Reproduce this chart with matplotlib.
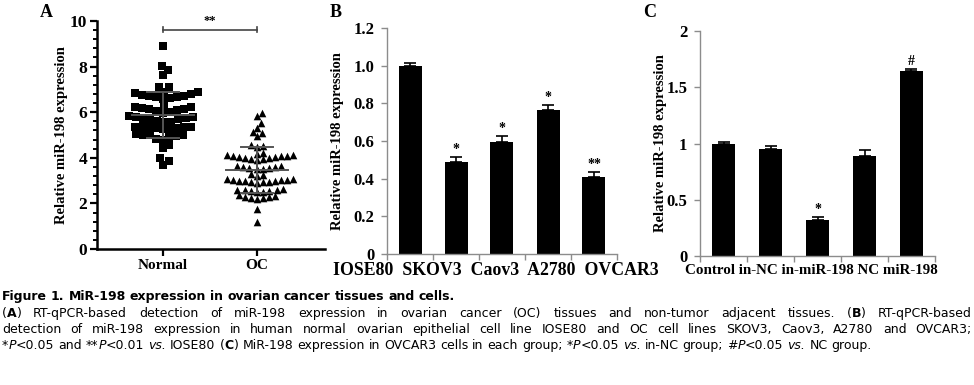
import matplotlib
matplotlib.use('Agg')
import matplotlib.pyplot as plt
import numpy as np
from matplotlib.ticker import AutoMinorLocator

# ---- panel A: individual values ----
a_groups = ['Normal', 'OC']
normal_vals = [8.92, 8.03, 7.83, 7.61, 7.12, 7.10, 6.90, 6.85, 6.88,
               6.78, 6.75, 6.72, 6.68, 6.62, 6.58, 6.65, 6.70,
               6.28, 6.25, 6.20, 6.15, 6.08, 6.02, 5.98, 6.05, 6.12, 6.22,
               5.82, 5.80, 5.75, 5.70, 5.65, 5.58, 5.55, 5.62, 5.68, 5.78,
               5.35, 5.33, 5.32, 5.30, 5.28, 5.25, 5.30, 5.34, 5.36,
               5.05, 5.00, 4.95, 4.92, 5.02, 4.98,
               4.82, 4.78, 4.55, 4.42, 3.98, 3.88, 3.70]
oc_vals = [5.97, 5.82, 5.52, 5.31, 5.12, 5.09, 4.95,
           4.55, 4.50, 4.48, 4.22, 4.18,
           4.12, 4.10, 4.08, 4.05, 4.02, 3.98, 3.95, 3.92, 3.96, 4.00, 4.06, 4.11,
           3.62, 3.58, 3.55, 3.52, 3.50, 3.54, 3.60, 3.65,
           3.30, 3.25, 3.22,
           3.05, 3.02, 3.00, 2.98, 2.95, 2.92, 2.90, 2.93, 2.97, 3.01, 3.04, 3.06,
           2.60, 2.58, 2.55, 2.52, 2.50, 2.53, 2.57, 2.62,
           2.35, 2.30, 2.25, 2.20, 2.22, 2.28, 2.33,
           1.75, 1.17]
a_sig = '**'

# ---- panel B: cell lines ----
b_labels = ['IOSE80', 'SKOV3', 'Caov3', 'A2780', 'OVCAR3']
b_means = [1.00, 0.49, 0.597, 0.762, 0.408]
b_errs = [0.015, 0.027, 0.032, 0.030, 0.028]
b_marks = ['', '*', '*', '*', '**']
b_ticks = [0, 0.2, 0.4, 0.6, 0.8, 1.0, 1.2]
b_ticklabels = ['0', '0.2', '0.4', '0.6', '0.8', '1.0', '1.2']

# ---- panel C: OVCAR3 groups ----
c_labels = ['Control', 'in-NC', 'in-miR-198', 'NC', 'miR-198']
c_means = [0.995, 0.955, 0.317, 0.889, 1.647]
c_errs = [0.020, 0.022, 0.027, 0.056, 0.017]
c_marks = ['', '', '*', '', '#']
c_ticks = [0, 0.5, 1, 1.5, 2]
c_ticklabels = ['0', '0.5', '1', '1.5', '2']

ylab = 'Relative miR-198 expression'

caption = [
    ('|Figure 1. MiR-198 expression in ovarian cancer tissues and cells.|', False),
    ('(|A|) RT-qPCR-based detection of miR-198 expression in ovarian cancer (OC) '
     'tissues and non-tumor adjacent tissues. (|B|) RT-qPCR-based', True),
    ('detection of miR-198 expression in human normal ovarian epithelial cell line '
     'IOSE80 and OC cell lines SKOV3, Caov3, A2780 and OVCAR3;', True),
    ('*_P_<0.05 and **_P_<0.01 _vs._ IOSE80 (|C|) MiR-198 expression in OVCAR3 cells '
     'in each group; *_P_<0.05 _vs._ in-NC group; #_P_<0.05 _vs._ NC group.', False),
]

SERIF = 'Liberation Serif'
CAP_FONT = 'DejaVu Sans'
W, H = 974, 385

plt.rcParams['font.family'] = SERIF
plt.rcParams['font.weight'] = 'bold'
plt.rcParams['axes.labelweight'] = 'bold'

fig = plt.figure(figsize=(W / 100, H / 100), dpi=100)


def px_axes(left, right, bottom, top):
    return fig.add_axes([left / W, (H - bottom) / H, (right - left) / W, (bottom - top) / H])


def swarm(vals, d_px, ppy, ppx):
    # simple beeswarm: each point goes to the free spot nearest the centre
    vals = np.asarray(vals)
    order = np.argsort(vals)
    cand = [0.0]
    for k in range(1, 80):
        cand += [k * 0.5, -k * 0.5]
    placed = []
    offs = np.zeros(len(vals))
    for i in order:
        y = vals[i] * ppy
        for c in cand:
            if all((c - px) ** 2 + (y - py) ** 2 >= d_px ** 2 for px, py in placed):
                break
        placed.append((c, y))
        offs[i] = c / ppx
    return offs


# ================= panel A =================
axA = px_axes(97, 325, 249, 21)
axA.set_xlim(-0.70, 1.72)
axA.set_ylim(0, 10)
ppy = 228 / 10.0
ppx = 94.0
for i, (vals, mk, d) in enumerate([(normal_vals, 's', 7.0), (oc_vals, '^', 5.9)]):
    offs = swarm(vals, d, ppy, ppx)
    axA.scatter(i + offs, vals, marker=mk, s=30, color='black', linewidths=0,
                zorder=3, clip_on=False)
    m = np.mean(vals)
    sd = np.std(vals, ddof=1)
    axA.plot([i - 0.33, i + 0.33], [m, m], color='#555555', lw=1.4, zorder=4)
    for v in (m - sd, m + sd):
        axA.plot([i - 0.17, i + 0.17], [v, v], color='#555555', lw=1.4, zorder=4)
    axA.plot([i, i], [m - sd, m + sd], color='#555555', lw=1.4, zorder=4)

axA.plot([0, 1], [9.62, 9.62], color='#444444', lw=1.2)
for xb in (0, 1):
    axA.plot([xb, xb], [9.5, 9.74], color='#444444', lw=1.2)
axA.text(0.5, 9.72, a_sig, ha='center', va='bottom', fontsize=9)

for s in ['top', 'right']:
    axA.spines[s].set_visible(False)
for s in ['left', 'bottom']:
    axA.spines[s].set_linewidth(1.8)
axA.set_yticks([0, 2, 4, 6, 8, 10])
axA.yaxis.set_minor_locator(AutoMinorLocator(5))
axA.set_xticks([0, 1])
axA.set_xticklabels(a_groups, fontsize=11, fontweight='bold')
axA.tick_params(axis='y', which='major', length=5, width=1.6, labelsize=12.5, pad=2)
axA.tick_params(axis='y', which='minor', length=3, width=1.4)
axA.tick_params(axis='x', length=5, width=1.6, pad=2)
axA.set_ylabel(ylab, fontsize=10.5, fontweight='bold')
axA.yaxis.set_label_coords(-0.125, 0.5)


def bar_panel(ax, means, errs, marks, ticks, ticklabels, top, labels, star_off,
              lab_size, lab_sep, lab_x, ylab_x):
    x = np.arange(len(means))
    ax.bar(x, means, width=0.5, color='black', zorder=2)
    ax.errorbar(x, means, yerr=[np.zeros(len(errs)), errs], fmt='none',
                ecolor='black', elinewidth=1.2, capsize=4, capthick=1.2, zorder=3)
    for xi, mi, ei, mk in zip(x, means, errs, marks):
        if mk:
            ax.text(xi, mi + ei + star_off, mk, ha='center', va='bottom', fontsize=10)
    ax.set_xlim(-0.5, len(means) - 0.5)
    ax.set_ylim(0, top)
    ax.set_yticks(ticks)
    ax.set_yticklabels(ticklabels, fontweight='bold')
    ax.set_xticks(np.arange(-0.5, len(means), 1))
    ax.set_xticklabels([])
    for s in ['top', 'right']:
        ax.spines[s].set_visible(False)
    for s in ['left', 'bottom']:
        ax.spines[s].set_color('#8c8c8c')
        ax.spines[s].set_linewidth(1.0)
    ax.tick_params(axis='both', length=4, width=1.0, color='#8c8c8c', labelsize=12, pad=5)
    ax.set_ylabel(ylab, fontsize=10.5, fontweight='bold')
    ax.yaxis.set_label_coords(ylab_x, 0.5)
    ax.text(lab_x, -0.036, lab_sep.join(labels), transform=ax.transAxes, ha='center',
            va='top', fontsize=lab_size, fontweight='bold')


# ================= panel B =================
axB = px_axes(387, 617, 254, 28)
bar_panel(axB, b_means, b_errs, b_marks, b_ticks, b_ticklabels, 1.2, b_labels, 0.005,
          12.8, '  ', 0.472, -0.187)

# ================= panel C =================
axC = px_axes(700, 935, 256, 31)
bar_panel(axC, c_means, c_errs, c_marks, c_ticks, c_ticklabels, 2.0, c_labels, 0.01,
          10.8, ' ', 0.474, -0.14)

# panel letters
for lx, letter in [(40, 'A'), (330, 'B'), (643, 'C')]:
    fig.text(lx / W, (H - 17) / H, letter, fontsize=13, fontweight='bold',
             ha='left', va='baseline')

# ================= caption =================
renderer = fig.canvas.get_renderer()
cap_size = 9.0


def parse_word(word):
    segs, cur, bold, ital = [], '', False, False
    for ch in word:
        if ch in '|_':
            if cur:
                segs.append((cur, bold, ital))
            cur = ''
            if ch == '|':
                bold = not bold
            else:
                ital = not ital
        else:
            cur += ch
    if cur:
        segs.append((cur, bold, ital))
    return segs


def cap_text(x, y, s, bold, ital):
    return fig.text(x / W, (H - y) / H, s, fontsize=cap_size, family=CAP_FONT,
                    weight='bold' if bold else 'normal',
                    style='italic' if ital else 'normal', ha='left', va='baseline')


def width_of(t):
    return t.get_window_extent(renderer).width


# scale caption font so the bold title line is as long as in the figure
probe = cap_text(0, 0, caption[0][0].strip('|'), True, False)
cap_size = cap_size * 456.0 / width_of(probe)
probe.remove()

probe1 = cap_text(0, 0, 'n n', False, False)
probe2 = cap_text(0, 0, 'nn', False, False)
space_w = width_of(probe1) - width_of(probe2)
probe1.remove()
probe2.remove()

x_left, x_right = 2, 972
baselines = [300, 317, 333, 349]
for (line, justify), yb in zip(caption, baselines):
    words = line.split(' ')
    bold_state = False
    parsed = []
    for w in words:
        segs = parse_word(('|' if bold_state else '') + w)
        if w.count('|') % 2 == 1:
            bold_state = not bold_state
        parsed.append(segs)
    drawn = []
    for segs in parsed:
        ts = [cap_text(0, yb, s, b, it) for s, b, it in segs]
        ws = [width_of(t) for t in ts]
        drawn.append((ts, ws))
    total = sum(sum(ws) for _, ws in drawn)
    gap = space_w
    if justify and len(drawn) > 1:
        gap = (x_right - x_left - total) / (len(drawn) - 1)
    x = x_left
    for ts, ws in drawn:
        for t, w in zip(ts, ws):
            t.set_x(x / W)
            x += w
        x += gap

fig.savefig('out.png', dpi=100)
